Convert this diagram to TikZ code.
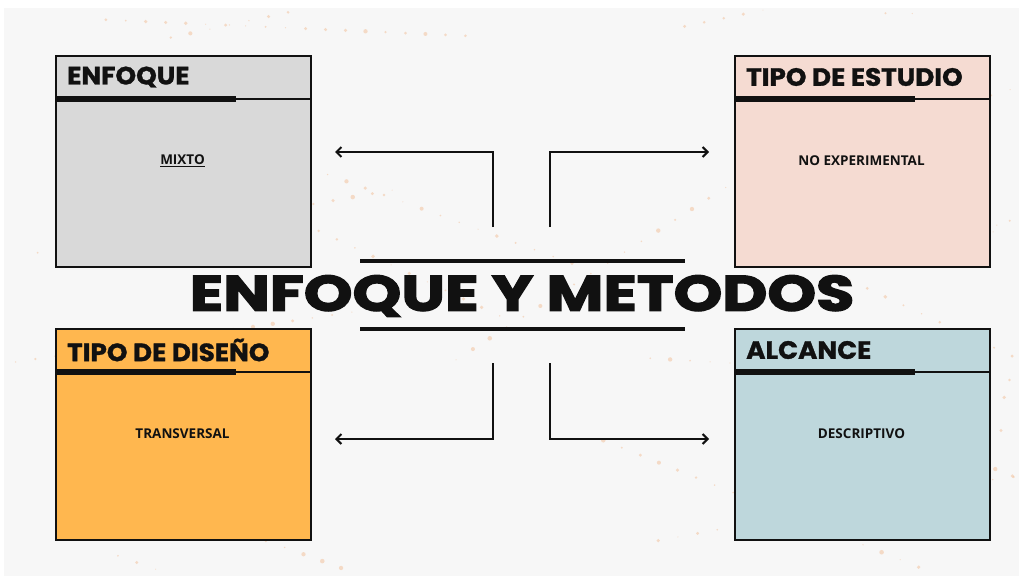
\documentclass[tikz,border=0pt]{standalone}
\usepackage{fontspec}
\setmainfont{Open Sans}
\newfontfamily\headfont{Poppins}
\usetikzlibrary{arrows.meta}
\definecolor{bgcol}{HTML}{F7F7F7}
\definecolor{dotcol}{HTML}{F3C7A6}
\definecolor{cgray}{HTML}{D9D9D9}
\definecolor{cpink}{HTML}{F5DBD2}
\definecolor{corange}{HTML}{FFB74F}
\definecolor{cblue}{HTML}{BED7DC}
\definecolor{ink}{HTML}{111111}
\newcommand{\heavytext}[2]{\special{pdf:literal direct 2 Tr #1 w}#2\special{pdf:literal direct 0 Tr}}
\tikzset{
  panel/.style={draw=ink, line width=2pt, minimum width=255pt, minimum height=211pt, inner sep=0pt, anchor=north west},
  paneltitle/.style={anchor=west, inner sep=0pt, xscale=1.05, font=\headfont\bfseries\fontsize{25}{25}\selectfont, text=ink},
  panelbody/.style={inner sep=0pt, font=\bfseries\fontsize{13.5}{13.5}\selectfont, text=ink},
  thinrule/.style={draw=ink, line width=1.6pt},
  thickrule/.style={draw=ink, line width=5.5pt},
  conn/.style={draw=ink, line width=2.1pt, -{Straight Barb[length=5pt,width=10pt,line width=2.1pt]}},
  titlerule/.style={draw=ink, line width=3.2pt},
}
\newcommand{\mypanel}[6]{%
  % #1 name, #2 x, #3 y (top), #4 fill, #5 title, #6 body
  \node[panel, fill=#4] (#1) at (#2,#3) {};
  \draw[thinrule] (#2,#3+44) -- (#2+255,#3+44);
  \draw[thickrule] (#2,#3+44) -- (#2+181,#3+44);
  \node[paneltitle] (#1-t) at (#2+12,#3+22) {\heavytext{0.3}{#5}};
  \node[panelbody] (#1-b) at (#2+127.5,#3+106) {#6};
}
\begin{document}
\begin{tikzpicture}[x=1pt,y=-1pt]
\useasboundingbox (0,0) rectangle (1023,581);
\fill[white] (0,0) rectangle (1023,581);
\fill[bgcol] (4,8) rectangle (1019,576);
% faint decorative dots
\pgfmathsetseed{11}
\foreach \k in {1,...,22}{
  \pgfmathsetmacro{\xa}{rnd*1000}
  \pgfmathsetmacro{\ya}{rnd*560+10}
  \pgfmathsetmacro{\ang}{rnd*70-35}
  \foreach \j in {0,...,18}{
    \pgfmathsetmacro{\px}{\xa+\j*20*cos(\ang)}
    \pgfmathsetmacro{\py}{\ya+\j*20*sin(\ang)}
    \pgfmathsetmacro{\rr}{rnd*1.8+0.5}
    \ifdim\px pt<1015pt \ifdim\px pt>6pt \ifdim\py pt<574pt \ifdim\py pt>10pt
      \fill[dotcol, opacity=0.6] (\px,\py) circle (\rr);
    \fi\fi\fi\fi
  }
}
\mypanel{enf}{55}{55}{cgray}{ENFOQUE}{\underline{MIXTO}}
\mypanel{est}{734}{55}{cpink}{TIPO DE ESTUDIO}{NO EXPERIMENTAL}
\mypanel{dis}{55}{328}{corange}{TIPO DE DISEÑO}{TRANSVERSAL}
\mypanel{alc}{734}{328}{cblue}{ALCANCE}{DESCRIPTIVO}
% title
\node[inner sep=0pt, text=ink, xscale=1.24, font=\headfont\bfseries\fontsize{50}{50}\selectfont] (title) at (522,296) {\heavytext{1.2}{ENFOQUE Y METODOS}};
\draw[titlerule] (360,261) -- (685,261);
\draw[titlerule] (360,329) -- (685,329);
% connectors
\coordinate (s1) at (493,227); \coordinate (e1) at (335,152);
\coordinate (s2) at (550,227); \coordinate (e2) at (709,152);
\coordinate (s3) at (493,363); \coordinate (e3) at (335,439);
\coordinate (s4) at (550,363); \coordinate (e4) at (709,439);
\draw[conn] (s1) |- (e1);
\draw[conn] (s2) |- (e2);
\draw[conn] (s3) |- (e3);
\draw[conn] (s4) |- (e4);
\end{tikzpicture}
\end{document}
